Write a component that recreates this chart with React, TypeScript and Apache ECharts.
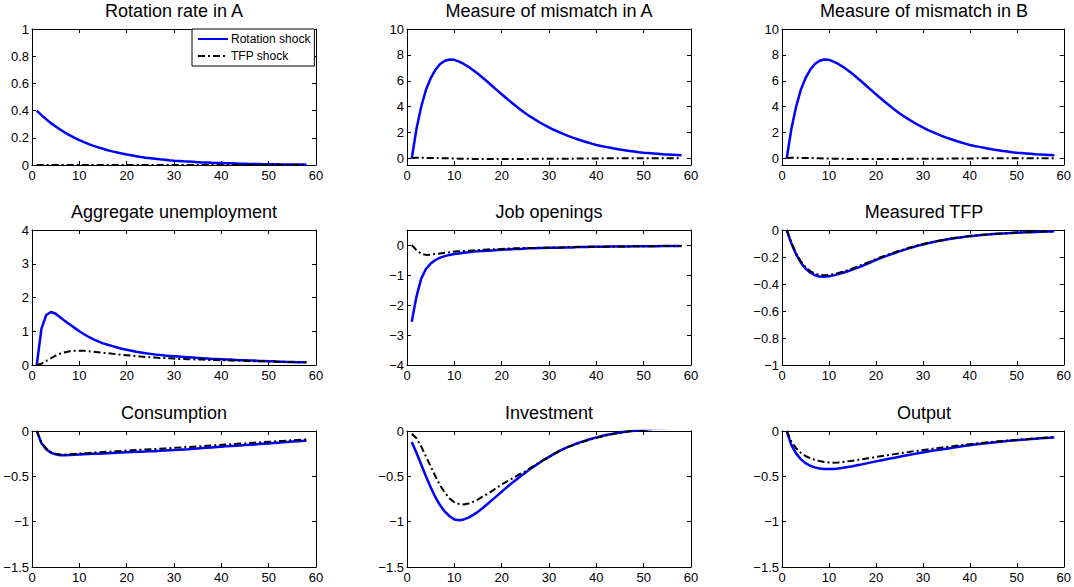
import React, { useEffect, useRef } from "react";
import * as echarts from "echarts";

// ---------- data ----------
const periods = [
  1, 2, 3, 4, 5, 6, 7, 8, 9, 10, 11, 12, 13, 14, 15, 16, 17, 18, 19, 20,
  21, 22, 23, 24, 25, 26, 27, 28, 29, 30, 31, 32, 33, 34, 35, 36, 37, 38, 39, 40,
  41, 42, 43, 44, 45, 46, 47, 48, 49, 50, 51, 52, 53, 54, 55, 56, 57, 58,
];
const xTicks = [0, 10, 20, 30, 40, 50, 60];

const seriesNames = ["Rotation shock", "TFP shock"];

// Rotation rate in A
const rotationRateRot = [
  0.4, 0.367, 0.336, 0.308, 0.283, 0.259, 0.238, 0.218, 0.2, 0.183,
  0.168, 0.154, 0.141, 0.13, 0.119, 0.109, 0.1, 0.092, 0.084, 0.077,
  0.071, 0.065, 0.059, 0.054, 0.05, 0.046, 0.042, 0.039, 0.035, 0.032,
  0.03, 0.027, 0.025, 0.023, 0.021, 0.019, 0.018, 0.016, 0.015, 0.014,
  0.013, 0.012, 0.011, 0.01, 0.009, 0.008, 0.0075, 0.007, 0.006, 0.0055,
  0.005, 0.0046, 0.0042, 0.0039, 0.0035, 0.0032, 0.003, 0.0027,
];
const rotationRateTfp = [
  0, 0, 0, 0, 0, 0, 0, 0, 0, 0, 0, 0, 0, 0, 0, 0, 0, 0, 0, 0,
  0, 0, 0, 0, 0, 0, 0, 0, 0, 0, 0, 0, 0, 0, 0, 0, 0, 0, 0, 0,
  0, 0, 0, 0, 0, 0, 0, 0, 0, 0, 0, 0, 0, 0, 0, 0, 0, 0,
];
const rotationRateTicks = [0, 0.2, 0.4, 0.6, 0.8, 1];

// Measure of mismatch in A
const mismatchARot = [
  0, 2.3, 4.0, 5.3, 6.2, 6.85, 7.3, 7.55, 7.65, 7.62,
  7.48, 7.3, 7.08, 6.82, 6.54, 6.24, 5.93, 5.6, 5.28, 4.96,
  4.65, 4.34, 4.05, 3.77, 3.5, 3.25, 3.02, 2.8, 2.59, 2.4,
  2.22, 2.06, 1.9, 1.75, 1.61, 1.49, 1.37, 1.26, 1.15, 1.05,
  0.97, 0.9, 0.83, 0.76, 0.69, 0.64, 0.58, 0.54, 0.49, 0.45,
  0.42, 0.39, 0.36, 0.33, 0.31, 0.29, 0.27, 0.25,
];
const mismatchATfp = [
  0.05, 0.06, 0.06, 0.05, 0.05, 0.04, 0.03, 0.02, 0.01, 0,
  -0.01, -0.02, -0.02, -0.03, -0.03, -0.03, -0.03, -0.03, -0.03, -0.03,
  -0.03, -0.03, -0.03, -0.03, -0.03, -0.03, -0.02, -0.02, -0.02, -0.02,
  -0.02, -0.01, -0.01, -0.01, -0.01, 0, 0, 0, 0.01, 0.01,
  0.01, 0.02, 0.02, 0.02, 0.02, 0.02, 0.02, 0.03, 0.03, 0.03,
  0.03, 0.03, 0.03, 0.03, 0.03, 0.03, 0.03, 0.03,
];
const mismatchTicks = [0, 2, 4, 6, 8, 10];

// Measure of mismatch in B
const mismatchBRot = [
  0, 2.3, 4.0, 5.3, 6.2, 6.85, 7.3, 7.55, 7.65, 7.62,
  7.48, 7.3, 7.08, 6.82, 6.54, 6.24, 5.93, 5.6, 5.28, 4.96,
  4.65, 4.34, 4.05, 3.77, 3.5, 3.25, 3.02, 2.8, 2.59, 2.4,
  2.22, 2.06, 1.9, 1.75, 1.61, 1.49, 1.37, 1.26, 1.15, 1.05,
  0.97, 0.9, 0.83, 0.76, 0.69, 0.64, 0.58, 0.54, 0.49, 0.45,
  0.42, 0.39, 0.36, 0.33, 0.31, 0.29, 0.27, 0.25,
];
const mismatchBTfp = [
  0.05, 0.06, 0.06, 0.05, 0.05, 0.04, 0.03, 0.02, 0.01, 0,
  -0.01, -0.02, -0.02, -0.03, -0.03, -0.03, -0.03, -0.03, -0.03, -0.03,
  -0.03, -0.03, -0.03, -0.03, -0.03, -0.03, -0.02, -0.02, -0.02, -0.02,
  -0.02, -0.01, -0.01, -0.01, -0.01, 0, 0, 0, 0.01, 0.01,
  0.01, 0.02, 0.02, 0.02, 0.02, 0.02, 0.02, 0.03, 0.03, 0.03,
  0.03, 0.03, 0.03, 0.03, 0.03, 0.03, 0.03, 0.03,
];

// Aggregate unemployment
const unemploymentRot = [
  0, 1.08, 1.48, 1.57, 1.52, 1.41, 1.3, 1.2, 1.1, 1.0,
  0.91, 0.83, 0.76, 0.7, 0.64, 0.6, 0.56, 0.52, 0.48, 0.45,
  0.42, 0.39, 0.37, 0.35, 0.33, 0.31, 0.3, 0.28, 0.27, 0.26,
  0.25, 0.24, 0.23, 0.22, 0.21, 0.2, 0.19, 0.18, 0.18, 0.17,
  0.16, 0.16, 0.15, 0.14, 0.14, 0.13, 0.13, 0.12, 0.12, 0.11,
  0.11, 0.1, 0.1, 0.09, 0.09, 0.08, 0.08, 0.08,
];
const unemploymentTfp = [
  0, 0.04, 0.12, 0.2, 0.28, 0.34, 0.38, 0.41, 0.42, 0.42,
  0.42, 0.41, 0.39, 0.38, 0.36, 0.35, 0.33, 0.32, 0.3, 0.29,
  0.28, 0.26, 0.25, 0.24, 0.23, 0.22, 0.21, 0.21, 0.2, 0.19,
  0.18, 0.18, 0.17, 0.17, 0.16, 0.16, 0.15, 0.15, 0.15, 0.14,
  0.14, 0.13, 0.13, 0.13, 0.12, 0.12, 0.11, 0.11, 0.11, 0.1,
  0.1, 0.1, 0.09, 0.09, 0.09, 0.08, 0.08, 0.08,
];
const unemploymentTicks = [0, 1, 2, 3, 4];

// Job openings
const openingsRot = [
  -2.56, -1.72, -1.12, -0.8, -0.62, -0.5, -0.42, -0.37, -0.33, -0.3,
  -0.28, -0.26, -0.24, -0.22, -0.21, -0.2, -0.19, -0.18, -0.17, -0.16,
  -0.15, -0.14, -0.13, -0.13, -0.12, -0.11, -0.11, -0.1, -0.1, -0.09,
  -0.09, -0.09, -0.08, -0.08, -0.08, -0.07, -0.07, -0.07, -0.06, -0.06,
  -0.06, -0.06, -0.05, -0.05, -0.05, -0.05, -0.05, -0.04, -0.04, -0.04,
  -0.04, -0.04, -0.04, -0.03, -0.03, -0.03, -0.03, -0.03,
];
const openingsTfp = [
  0, -0.17, -0.29, -0.33, -0.32, -0.3, -0.28, -0.26, -0.24, -0.22,
  -0.21, -0.2, -0.19, -0.18, -0.17, -0.16, -0.15, -0.14, -0.14, -0.13,
  -0.12, -0.12, -0.11, -0.11, -0.1, -0.1, -0.1, -0.09, -0.09, -0.09,
  -0.08, -0.08, -0.08, -0.07, -0.07, -0.07, -0.07, -0.06, -0.06, -0.06,
  -0.06, -0.05, -0.05, -0.05, -0.05, -0.05, -0.04, -0.04, -0.04, -0.04,
  -0.04, -0.04, -0.03, -0.03, -0.03, -0.03, -0.03, -0.03,
];
const openingsTicks = [-4, -3, -2, -1, 0];

// Measured TFP
const measuredTfpRot = [
  0, -0.1, -0.18, -0.24, -0.285, -0.315, -0.335, -0.345, -0.347, -0.343,
  -0.336, -0.327, -0.317, -0.306, -0.294, -0.281, -0.267, -0.252, -0.237, -0.222,
  -0.208, -0.195, -0.182, -0.17, -0.158, -0.147, -0.136, -0.126, -0.116, -0.107,
  -0.099, -0.091, -0.084, -0.077, -0.071, -0.065, -0.06, -0.055, -0.05, -0.046,
  -0.042, -0.039, -0.036, -0.033, -0.03, -0.028, -0.026, -0.024, -0.022, -0.02,
  -0.018, -0.017, -0.016, -0.015, -0.013, -0.012, -0.011, -0.01,
];
const measuredTfpTfp = [
  0, -0.095, -0.172, -0.231, -0.275, -0.304, -0.323, -0.333, -0.336, -0.333,
  -0.327, -0.318, -0.308, -0.297, -0.285, -0.272, -0.258, -0.244, -0.23, -0.216,
  -0.202, -0.189, -0.176, -0.165, -0.153, -0.143, -0.132, -0.123, -0.113, -0.104,
  -0.096, -0.089, -0.082, -0.075, -0.069, -0.063, -0.058, -0.053, -0.049, -0.045,
  -0.041, -0.038, -0.035, -0.032, -0.029, -0.027, -0.025, -0.023, -0.021, -0.019,
  -0.018, -0.016, -0.015, -0.014, -0.013, -0.012, -0.011, -0.01,
];
const measuredTfpTicks = [-1, -0.8, -0.6, -0.4, -0.2, 0];

// Consumption
const consumptionRot = [
  0, -0.135, -0.2, -0.24, -0.258, -0.268, -0.268, -0.265, -0.262, -0.259,
  -0.256, -0.254, -0.252, -0.25, -0.248, -0.245, -0.243, -0.24, -0.237, -0.234,
  -0.232, -0.23, -0.228, -0.226, -0.224, -0.222, -0.219, -0.216, -0.213, -0.21,
  -0.207, -0.203, -0.2, -0.196, -0.192, -0.188, -0.185, -0.181, -0.177, -0.173,
  -0.169, -0.166, -0.162, -0.159, -0.155, -0.151, -0.148, -0.144, -0.14, -0.137,
  -0.133, -0.129, -0.125, -0.121, -0.117, -0.113, -0.109, -0.105,
];
const consumptionTfp = [
  0, -0.13, -0.195, -0.232, -0.25, -0.258, -0.26, -0.257, -0.253, -0.249,
  -0.245, -0.242, -0.238, -0.235, -0.232, -0.229, -0.225, -0.222, -0.219, -0.216,
  -0.213, -0.21, -0.207, -0.204, -0.201, -0.198, -0.195, -0.192, -0.189, -0.186,
  -0.183, -0.179, -0.176, -0.173, -0.17, -0.166, -0.163, -0.16, -0.156, -0.153,
  -0.149, -0.146, -0.143, -0.139, -0.136, -0.132, -0.129, -0.126, -0.122, -0.119,
  -0.116, -0.112, -0.109, -0.105, -0.102, -0.099, -0.096, -0.093,
];
const bottomTicks = [-1.5, -1, -0.5, 0];

// Investment
const investmentRot = [
  -0.12, -0.24, -0.37, -0.5, -0.62, -0.73, -0.82, -0.89, -0.94, -0.975,
  -0.985, -0.975, -0.955, -0.925, -0.89, -0.85, -0.805, -0.76, -0.715, -0.67,
  -0.625, -0.58, -0.54, -0.5, -0.46, -0.42, -0.385, -0.35, -0.315, -0.285,
  -0.255, -0.225, -0.2, -0.175, -0.155, -0.135, -0.117, -0.1, -0.085, -0.07,
  -0.057, -0.045, -0.035, -0.025, -0.017, -0.009, -0.002, 0.004, 0.01, 0.015,
  0.02, 0.024, 0.028, 0.031, 0.034, 0.036, 0.038, 0.04,
];
const investmentTfp = [
  -0.03, -0.08, -0.17, -0.28, -0.39, -0.5, -0.6, -0.68, -0.745, -0.785,
  -0.805, -0.81, -0.8, -0.78, -0.755, -0.725, -0.695, -0.66, -0.625, -0.59,
  -0.56, -0.53, -0.5, -0.47, -0.445, -0.41, -0.38, -0.345, -0.315, -0.285,
  -0.255, -0.227, -0.2, -0.178, -0.158, -0.14, -0.122, -0.105, -0.09, -0.076,
  -0.063, -0.05, -0.039, -0.029, -0.02, -0.012, -0.004, 0.003, 0.009, 0.014,
  0.019, 0.023, 0.027, 0.03, 0.033, 0.035, 0.037, 0.039,
];

// Output
const outputRot = [
  0, -0.155, -0.247, -0.31, -0.354, -0.383, -0.401, -0.413, -0.419, -0.42,
  -0.418, -0.413, -0.406, -0.397, -0.388, -0.378, -0.368, -0.357, -0.346, -0.335,
  -0.325, -0.315, -0.304, -0.294, -0.284, -0.274, -0.264, -0.255, -0.245, -0.236,
  -0.227, -0.219, -0.211, -0.203, -0.195, -0.187, -0.179, -0.171, -0.163, -0.156,
  -0.15, -0.144, -0.138, -0.132, -0.126, -0.121, -0.116, -0.111, -0.106, -0.101,
  -0.097, -0.093, -0.089, -0.085, -0.081, -0.077, -0.074, -0.071,
];
const outputTfp = [
  0, -0.118, -0.19, -0.24, -0.276, -0.3, -0.318, -0.332, -0.341, -0.347,
  -0.349, -0.347, -0.342, -0.335, -0.328, -0.32, -0.312, -0.304, -0.296, -0.287,
  -0.279, -0.271, -0.263, -0.255, -0.247, -0.239, -0.232, -0.224, -0.217, -0.21,
  -0.203, -0.196, -0.189, -0.183, -0.176, -0.17, -0.163, -0.157, -0.151, -0.145,
  -0.14, -0.134, -0.129, -0.124, -0.119, -0.114, -0.11, -0.106, -0.102, -0.098,
  -0.094, -0.09, -0.086, -0.082, -0.078, -0.074, -0.071, -0.068,
];

const panels = [
  { title: "Rotation rate in A", rot: rotationRateRot, tfp: rotationRateTfp, min: 0, max: 1, ticks: rotationRateTicks },
  { title: "Measure of mismatch in A", rot: mismatchARot, tfp: mismatchATfp, min: -0.5, max: 10, ticks: mismatchTicks },
  { title: "Measure of mismatch in B", rot: mismatchBRot, tfp: mismatchBTfp, min: -0.5, max: 10, ticks: mismatchTicks },
  { title: "Aggregate unemployment", rot: unemploymentRot, tfp: unemploymentTfp, min: 0, max: 4, ticks: unemploymentTicks },
  { title: "Job openings", rot: openingsRot, tfp: openingsTfp, min: -4, max: 0.5, ticks: openingsTicks },
  { title: "Measured TFP", rot: measuredTfpRot, tfp: measuredTfpTfp, min: -1, max: 0, ticks: measuredTfpTicks },
  { title: "Consumption", rot: consumptionRot, tfp: consumptionTfp, min: -1.5, max: 0, ticks: bottomTicks },
  { title: "Investment", rot: investmentRot, tfp: investmentTfp, min: -1.5, max: 0, ticks: bottomTicks },
  { title: "Output", rot: outputRot, tfp: outputTfp, min: -1.5, max: 0, ticks: bottomTicks },
];

// ---------- layout ----------
const colLeft = [32, 407, 782];
const rowTop = [29, 230, 431];
const rowHeight = [136, 135, 136];
const gridWidth = 284;
const FONT = "'Liberation Sans', Arial, Helvetica, sans-serif";

const fmt = (v: number) => String(v).replace("-", "\u2212");

function buildOption() {
  const grid: any[] = [];
  const xAxis: any[] = [];
  const yAxis: any[] = [];
  const series: any[] = [];
  const title: any[] = [];

  panels.forEach((p, i) => {
    const r = Math.floor(i / 3);
    const c = i % 3;
    const left = colLeft[c];
    const top = rowTop[r];
    const height = rowHeight[r];
    grid.push({ left, top, width: gridWidth, height, show: false });
    title.push({
      text: p.title,
      left: left + gridWidth / 2,
      top: top - 27,
      textAlign: "center",
      padding: 0,
      textStyle: { fontSize: 18, fontWeight: "normal", color: "#000", fontFamily: FONT },
    });
    const line = { show: true, onZero: false, lineStyle: { color: "#000", width: 1 } };
    const tick = { show: true, inside: true, length: 4, lineStyle: { color: "#000", width: 1 } };
    xAxis.push({
      type: "value", gridIndex: i, min: 0, max: 60, position: "bottom",
      axisLine: line,
      axisTick: { ...tick, customValues: xTicks },
      splitLine: { show: false },
      axisLabel: { show: true, customValues: xTicks, color: "#000", fontSize: 13, margin: 4, fontFamily: FONT },
    });
    xAxis.push({
      type: "value", gridIndex: i, min: 0, max: 60, position: "top",
      axisLine: line,
      axisTick: { ...tick, customValues: xTicks },
      splitLine: { show: false },
      axisLabel: { show: false, customValues: xTicks },
    });
    yAxis.push({
      type: "value", gridIndex: i, min: p.min, max: p.max, position: "left",
      axisLine: line,
      axisTick: { ...tick, customValues: p.ticks },
      splitLine: { show: false },
      axisLabel: { show: true, customValues: p.ticks, formatter: fmt, color: "#000", fontSize: 13, margin: 3, fontFamily: FONT },
    });
    yAxis.push({
      type: "value", gridIndex: i, min: p.min, max: p.max, position: "right",
      axisLine: line,
      axisTick: { ...tick, customValues: p.ticks },
      splitLine: { show: false },
      axisLabel: { show: false, customValues: p.ticks },
    });
    series.push({
      type: "line", name: seriesNames[0], xAxisIndex: 2 * i, yAxisIndex: 2 * i,
      data: periods.map((t, k) => [t, p.rot[k]]),
      symbol: "none", showSymbol: false, clip: true,
      lineStyle: { color: "#0000ff", width: 2.5 }, itemStyle: { color: "#0000ff" }, z: 3,
    });
    series.push({
      type: "line", name: seriesNames[1], xAxisIndex: 2 * i, yAxisIndex: 2 * i,
      data: periods.map((t, k) => [t, p.tfp[k]]),
      symbol: "none", showSymbol: false, clip: true,
      lineStyle: { color: "#000", width: 2, type: [7, 3, 2, 3] }, itemStyle: { color: "#000" }, z: 4,
    });
  });

  return {
    animation: false,
    backgroundColor: "#fff",
    textStyle: { fontFamily: FONT },
    title,
    grid,
    xAxis,
    yAxis,
    series,
    legend: {
      data: seriesNames,
      orient: "vertical",
      left: 192,
      top: 29,
      padding: [4, 4, 4, 5],
      itemGap: 5,
      itemWidth: 30,
      itemHeight: 12,
      itemStyle: { opacity: 0 },
      borderColor: "#000",
      borderWidth: 1,
      borderRadius: 0,
      backgroundColor: "#fff",
      selectedMode: false,
      textStyle: { fontSize: 12, color: "#000", fontFamily: FONT, padding: [0, 0, 0, -2] },
      z: 10,
    },
  };
}

export default function App() {
  const ref = useRef<HTMLDivElement>(null);
  useEffect(() => {
    document.body.style.margin = "0";
    const chart = echarts.init(ref.current!, null, { renderer: "svg" });
    chart.setOption(buildOption() as any);
    return () => chart.dispose();
  }, []);
  return <div ref={ref} style={{ width: 1074, height: 587, position: "absolute", left: 0, top: 0 }} />;
}
